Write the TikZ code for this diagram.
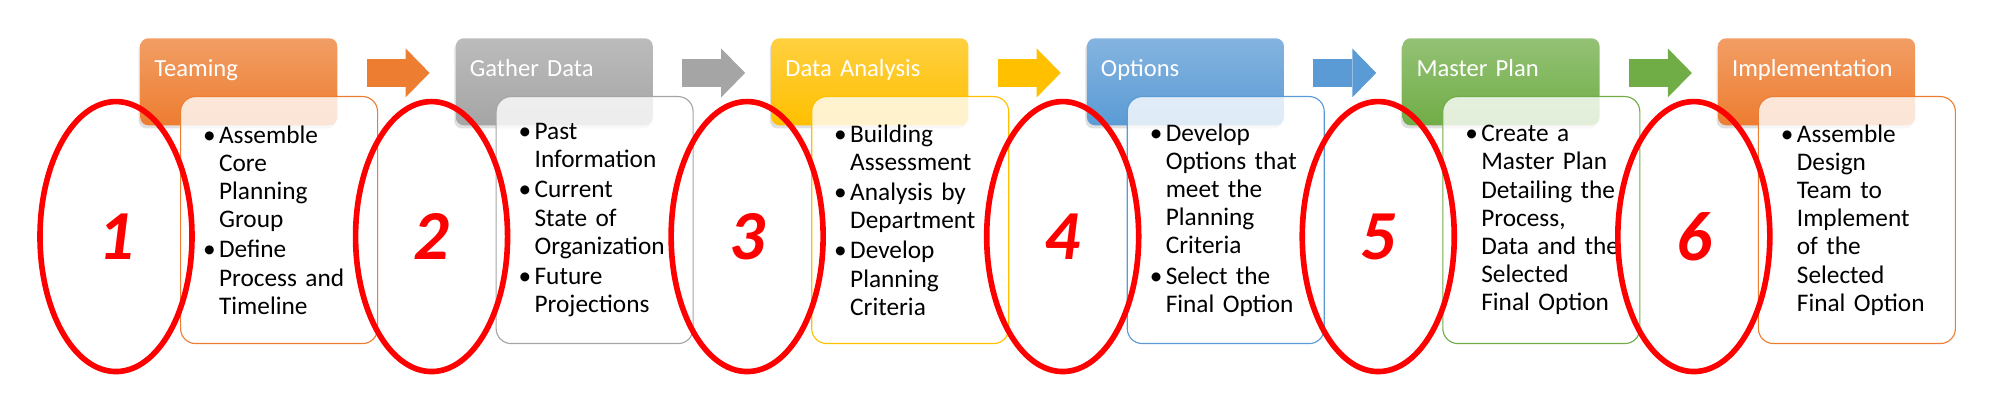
\documentclass[tikz,border=0pt]{standalone}
\usepackage{fontspec}
\setmainfont{Carlito}
\usetikzlibrary{positioning,shapes.geometric,arrows.meta,shadows}
\definecolor{orng}{HTML}{ED7D31}
\definecolor{gry}{HTML}{A5A5A5}
\definecolor{gold}{HTML}{FFC000}
\definecolor{blu}{HTML}{5B9BD5}
\definecolor{grn}{HTML}{70AD47}
\newcommand{\blt}{\hspace*{.1cm}\makebox[.4cm][l]{\textbullet}}
\newcommand{\idt}{\hspace*{.5cm}}
\tikzset{
  >=latex,
}
\tikzstyle{header}=[rectangle,rounded corners=.2cm,inner xsep=.35cm,inner ysep=0pt,
  text width=4.225cm,align=left,text height=.95cm,text depth=1.225cm,text=white,
  font=\fontsize{17.5}{20}\selectfont,
  drop shadow={opacity=.25,shadow xshift=-.04cm,shadow yshift=-.08cm}]
\tikzstyle{panel}=[rectangle,rounded corners=.375cm,fill=white,fill opacity=.8,text opacity=1,
  line width=.8pt,minimum width=4.925cm,minimum height=6.175cm,inner xsep=.4625cm,
  text width=4cm,align=left,font=\fontsize{18}{20}\selectfont]
\tikzstyle{ring}=[ellipse,draw=red,line width=4pt,minimum width=3.8cm,minimum height=6.75cm,
  inner sep=0pt,text=red,font=\fontsize{50}{50}\selectfont\bfseries\itshape]
\tikzstyle{flow}=[line width=.7cm,-{Triangle[width=1.225cm,length=.6cm,line width=0pt]}]

\begin{document}
\begin{tikzpicture}
  \useasboundingbox (0,0) rectangle (50,10.45);
  % step headers
  \node[header,anchor=north west,top color=orng!75!white,bottom color=orng] (h1) at (3.5,9.5) {Teaming};
  \node[header,top color=gry!75!white,bottom color=gry,right=2.95cm of h1] (h2) {Gather Data};
  \node[header,top color=gold!75!white,bottom color=gold,right=2.95cm of h2] (h3) {Data Analysis};
  \node[header,top color=blu!75!white,bottom color=blu,right=2.95cm of h3] (h4) {Options};
  \node[header,top color=grn!75!white,bottom color=grn,right=2.95cm of h4] (h5) {Master Plan};
  \node[header,top color=orng!75!white,bottom color=orng,right=2.95cm of h5] (h6) {Implementation};
  % arrows between the headers
  \foreach \a/\b/\c in {h1/h2/orng,h2/h3/gry,h3/h4/gold,h4/h5/blu,h5/h6/grn}
    \draw[flow,\c] ([xshift=.725cm]\a.mid east) -- ([xshift=-.65cm]\b.mid west);
  % bullet panels
  \node[panel,draw=orng,below right=1.45cm and 1cm of h1.north west] (p1)
    {\blt Assemble\\\idt Core\\\idt Planning\\\idt Group\\[1.5pt]\blt Define\\\idt Process and\\\idt Timeline};
  \node[panel,draw=gry,below right=1.45cm and 1cm of h2.north west] (p2)
    {\blt Past\\\idt Information\\[1.5pt]\blt Current\\\idt State of\\\idt Organization\\[1.5pt]\blt Future\\\idt Projections};
  \node[panel,draw=gold,below right=1.45cm and 1cm of h3.north west] (p3)
    {\blt Building\\\idt Assessment\\[1.5pt]\blt Analysis by\\\idt Department\\[1.5pt]\blt Develop\\\idt Planning\\\idt Criteria};
  \node[panel,draw=blu,below right=1.45cm and 1cm of h4.north west] (p4)
    {\blt Develop\\\idt Options that\\\idt meet the\\\idt Planning\\\idt Criteria\\[1.5pt]\blt Select the\\\idt Final Option};
  \node[panel,draw=grn,below right=1.45cm and 1cm of h5.north west] (p5)
    {\blt Create a\\\idt Master Plan\\\idt Detailing the\\\idt Process,\\\idt Data and the\\\idt Selected\\\idt Final Option};
  \node[panel,draw=orng,below right=1.45cm and 1cm of h6.north west] (p6)
    {\blt Assemble\\\idt Design\\\idt Team to\\\idt Implement\\\idt of the\\\idt Selected\\\idt Final Option};
  % numbered rings
  \foreach \n in {1,...,6}
    \node[ring] (r\n) at ([shift={(-1.6cm,-.4125cm)}]p\n.west) {\n};
\end{tikzpicture}
\end{document}
